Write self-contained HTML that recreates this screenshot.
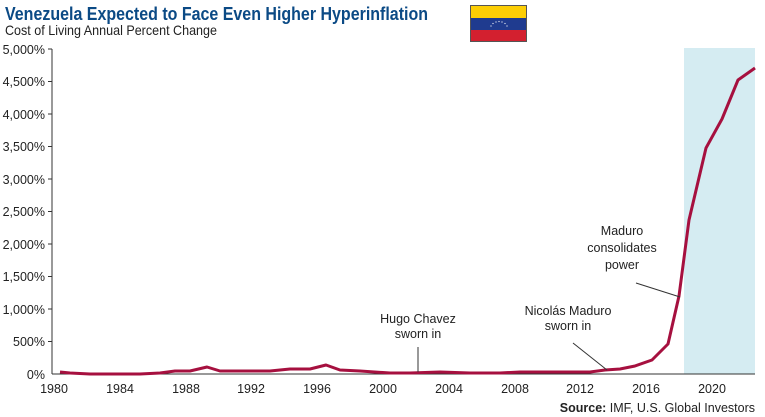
<!DOCTYPE html>
<html><head><meta charset="utf-8"><style>
body{margin:0;background:#fff;}
svg{display:block;font-family:"Liberation Sans Narrow","Liberation Sans",sans-serif;}
</style></head><body>
<svg width="765" height="417" viewBox="0 0 765 417">
<text x="5" y="20" font-size="18" font-weight="bold" fill="#0b4a85" textLength="423" lengthAdjust="spacingAndGlyphs">Venezuela Expected to Face Even Higher Hyperinflation</text>
<text x="5" y="35" font-size="14" fill="#222" textLength="212" lengthAdjust="spacingAndGlyphs">Cost of Living Annual Percent Change</text>
<rect x="470" y="5" width="57" height="37" fill="#555"/>
<rect x="471" y="6" width="55" height="12" fill="#fcce05"/>
<rect x="471" y="18" width="55" height="12" fill="#1f3b8f"/>
<rect x="471" y="30" width="55" height="11" fill="#d3202f"/>
<g fill="#fff"><circle cx="491" cy="26" r=".6"/><circle cx="493" cy="23.5" r=".6"/><circle cx="496" cy="22" r=".6"/><circle cx="499" cy="21.5" r=".6"/><circle cx="502" cy="22" r=".6"/><circle cx="505" cy="23.5" r=".6"/><circle cx="507" cy="26" r=".6"/></g>
<rect x="684" y="48" width="71" height="326" fill="#d5ecf2"/>
<g stroke="#333" stroke-width="1" fill="none">
<line x1="52" y1="49" x2="52" y2="374"/>
<line x1="52" y1="374" x2="755" y2="374"/>
</g>
<g stroke="#333" stroke-width="1">
<line x1="48" y1="49" x2="52" y2="49"/><line x1="48" y1="81.5" x2="52" y2="81.5"/><line x1="48" y1="114" x2="52" y2="114"/><line x1="48" y1="146.5" x2="52" y2="146.5"/><line x1="48" y1="179" x2="52" y2="179"/><line x1="48" y1="211.5" x2="52" y2="211.5"/><line x1="48" y1="244" x2="52" y2="244"/><line x1="48" y1="276.5" x2="52" y2="276.5"/><line x1="48" y1="309" x2="52" y2="309"/><line x1="48" y1="341.5" x2="52" y2="341.5"/>
</g>
<g font-size="12.5" fill="#222" text-anchor="end">
<text x="45" y="54">5,000%</text><text x="45" y="86">4,500%</text><text x="45" y="119">4,000%</text><text x="45" y="151">3,500%</text><text x="45" y="184">3,000%</text><text x="45" y="216">2,500%</text><text x="45" y="249">2,000%</text><text x="45" y="281">1,500%</text><text x="45" y="314">1,000%</text><text x="45" y="346">500%</text><text x="45" y="379">0%</text>
</g>
<g font-size="12.5" fill="#222" text-anchor="middle">
<text x="54" y="393">1980</text><text x="120" y="393">1984</text><text x="186" y="393">1988</text><text x="251" y="393">1992</text><text x="317" y="393">1996</text><text x="383" y="393">2000</text><text x="449" y="393">2004</text><text x="515" y="393">2008</text><text x="580" y="393">2012</text><text x="646" y="393">2016</text><text x="712" y="393">2020</text>
</g>
<polyline fill="none" stroke="#a6103f" stroke-width="3" stroke-linejoin="round" points="60,372 70,373 90,374 110,374 140,374 160,373 175,371 190,371 207,367 220,371 240,371 270,371 290,369 310,369 326,365 340,370 360,371 390,373 410,373 440,372 470,373 500,373 520,372 560,372 590,372 605,370 620,369 635,366 652,360 668,344 679,296 689,220 706,148 722,119 738,80 755,68"/>
<g stroke="#333" stroke-width="1">
<line x1="418" y1="347" x2="418" y2="372"/>
<line x1="573" y1="343" x2="607" y2="370"/>
<line x1="636" y1="283" x2="680" y2="297"/>
</g>
<g font-size="12.5" fill="#222" text-anchor="middle">
<text x="418" y="323">Hugo Chavez</text><text x="418" y="338">sworn in</text>
<text x="568" y="315">Nicolás Maduro</text><text x="568" y="330">sworn in</text>
<text x="622" y="235">Maduro</text><text x="622" y="252">consolidates</text><text x="622" y="269">power</text>
</g>
<text x="755" y="412" font-size="12.5" fill="#222" text-anchor="end"><tspan font-weight="bold">Source:</tspan> IMF, U.S. Global Investors</text>
</svg>
</body></html>
